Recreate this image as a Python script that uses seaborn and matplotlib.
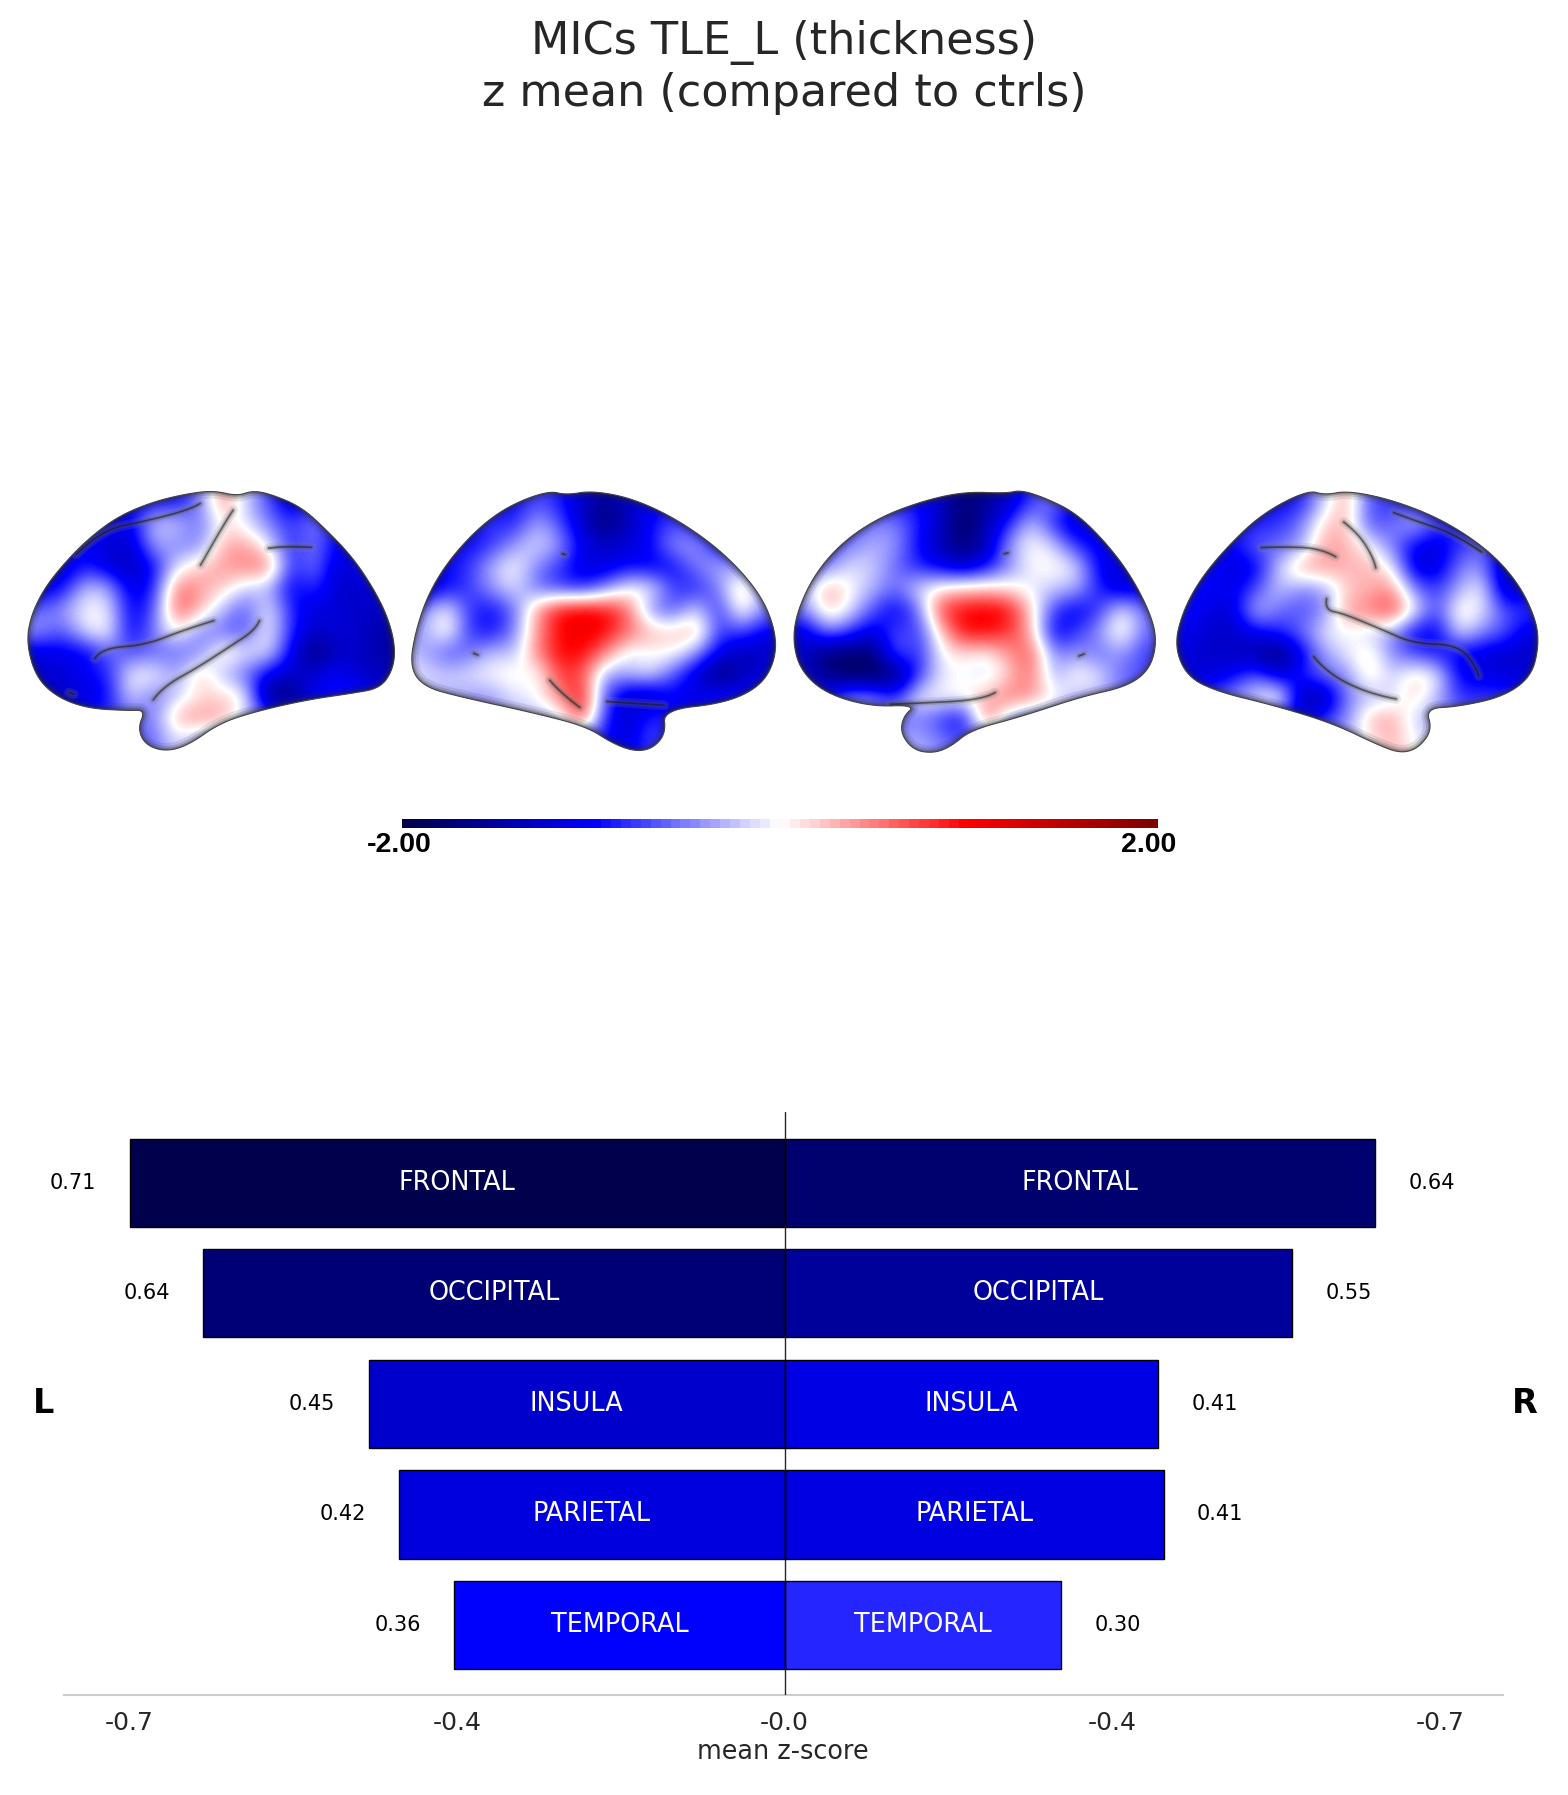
import matplotlib
matplotlib.use("Agg")
import matplotlib.pyplot as plt
from matplotlib.colors import Normalize
from matplotlib.patches import Polygon
import numpy as np
import seaborn as sns

# bar data
regions = ["FRONTAL", "OCCIPITAL", "INSULA", "PARIETAL", "TEMPORAL"]
left_vals = [0.71, 0.63, 0.451, 0.418, 0.358]
right_vals = [0.64, 0.55, 0.405, 0.411, 0.30]
left_labels = ["0.71", "0.64", "0.45", "0.42", "0.36"]
right_labels = ["0.64", "0.55", "0.41", "0.41", "0.30"]
tick_vals = [-0.71, -0.355, 0.0, 0.355, 0.71]
tick_labels = ["-0.7", "-0.4", "-0.0", "-0.4", "-0.7"]

lat_left = [
    [-1, -1, -1, -1, -1, -.9, -1, -.5, .5, -.2, -.7, -1.3, -.8, -1, -1, -1],
    [-1, -1, -.8, -1.1, -1.1, -.2, -.2, -.6, .1, -.1, -.5, -.8, -.5, -1, -1, -1],
    [-1, -.8, -1.1, -1.2, -1.3, -.3, -.5, -.5, .3, .4, -.1, -.9, -.5, -1.1, -1, -1],
    [-1, -1.3, -.9, -1.2, -1.4, -1, -.1, .2, .4, .5, .6, -.9, -.5, -1.3, -1, -1],
    [-1.2, -1, -.2, -.3, -1.2, -.9, .6, .4, .2, -.2, -.3, -1.1, -.8, -1.3, -1.3, -1.2],
    [-.6, -.4, 0, -.05, -1.1, -.7, .7, .3, -.3, -.7, 0, -.9, -1.2, -1.2, -1.3, -1.3],
    [-.4, -.7, -.1, .05, -1.1, -.5, .1, -.5, -.6, -.7, .05, -.9, -1.3, -1.2, -1.3, -1.5],
    [-1.2, -1.1, -1.1, -.6, -.7, -.6, -.6, -.5, .2, -.1, -.1, -1.1, -1.8, -1.3, -1.3, -1.5],
    [-1.3, -1.2, -1, -.9, 0, 0, -.4, .3, -.3, -.6, -1.1, -1.3, -1.2, -1, -1.3, -1.4],
    [-1.3, -1.4, -1.2, -1, -.1, -.6, -.2, .1, .2, 0, -1.8, -1.7, -1.1, -.9, -1, -1],
    [-1, -1, -1, -.8, -.6, -.5, .35, .45, .35, -.2, -.6, -1, -1, -1, -1, -1],
    [-1, -1, -1, -.8, -.6, -.6, -.1, -.4, -.5, -.6, -.8, -1, -1, -1, -1, -1],
]
med_left = [
    [-1, -1, -1, -1, -1, -.7, -.9, -1.3, -1.6, -1.3, -1.1, -1, -1, -1, -1, -1],
    [-1, -1, -1, -.8, -.9, -.3, -.7, -1.3, -1.8, -1.4, -1, -.7, -1, -1, -1, -1],
    [-1, -1, -1, -.8, -.4, -.1, -.4, -1.1, -1.3, -1.2, -1, -.4, -.4, -1, -1, -1],
    [-1, -1, -.8, -.3, .05, -.5, -.8, -1.2, -1.2, -1, -1.1, -1, -.5, -.3, -.5, -.8],
    [-1.3, -1, -.8, -.4, -.1, -.6, -.8, -.9, -.5, 0, 0, -.8, -.9, -.5, .4, -.6],
    [-.5, .05, -.8, -1, -.6, .4, 1, 1.1, 1, .6, -.5, -.7, -.1, -.9, .2, -.5],
    [-.4, .2, -.8, -1, -.5, .4, 1, 1.1, 1, .6, .3, .2, .4, -.8, -.7, -1.1],
    [-.3, -.7, -.6, -.2, -.3, .5, 1, 1, .5, -.1, 0, .05, -.4, -1.1, -1.4, -1.3],
    [-.1, -.2, -.1, 0, .1, -.1, .8, .7, -.4, -.3, -.1, -.7, -1.2, -1.8, -1.4, -1.2],
    [-.3, -.3, -.4, -.4, -.1, 0, .5, 1, -.7, -1.3, -1.4, -1, -1.2, -.9, -1, -1],
    [-.4, -.4, -.4, -.4, -.3, -.3, -.2, .9, -.9, -1.3, -.8, -1, -1, -1, -1, -1],
    [-.4, -.4, -.4, -.4, -.4, -.4, -.4, -.8, -1, -1.2, -.7, -1, -1, -1, -1, -1],
]
med_right = [
    [-1, -1, -1, -1, -1, -1, -1.3, -1.8, -1.6, -1.3, -.8, -.5, -1, -1, -1, -1],
    [-1, -1, -.8, -.5, -.5, -.9, -1.3, -1.9, -1.4, -.9, -.2, -.9, -1.3, -1, -1, -1],
    [-.9, -.8, -.5, -.3, -.4, -1, -1.4, -1.8, -1.4, -.4, .05, -.2, -.9, -1.1, -1, -1],
    [-.8, -.5, -.1, -.2, -.6, -.9, -1.1, -1.3, -1, -.5, 0, .05, -.1, -1.1, -1.2, -1],
    [-.3, .4, 0, -.3, -.6, -.1, .1, .2, .2, .1, -.1, -.2, -.3, -.9, -1.3, -1.1],
    [-.5, .3, -.1, -.7, -1.1, -.6, .8, 1, 1.1, 1, .2, -.8, -1.1, -.8, 0, -.6],
    [-1.2, -.5, -.8, -1.2, -.7, -.8, .2, 1, 1, .8, .3, -1.1, -.8, -.4, .2, -.6],
    [-1.3, -1.8, -1.8, -1.8, -.6, -.9, 0, .1, 0, .4, .7, -.5, -.4, -.6, -.4, -.8],
    [-1.3, -1.7, -1.9, -1.9, -1.8, -.8, -.1, 0, -.2, .2, .6, -.4, .1, -.1, -.6, -.7],
    [-1, -.9, -.3, -.4, -.8, 0, 0, .05, .3, .6, .4, .1, -.3, -.3, -.6, -.7],
    [-.8, -.8, -.8, -.7, -.6, -.5, -.8, -1.1, .7, -.4, -.6, -.6, -.6, -.6, -.6, -.6],
    [-.6, -.6, -.6, -.5, -.4, -.3, -.5, -.7, -.7, -.7, -.7, -.7, -.7, -.7, -.7, -.7],
]
lat_right = [
    [-1, -1, -1, -1, -1, -.9, -.2, .4, -.7, -.8, -.9, -1, -1, -1, -1, -1],
    [-1, -1, -1, -.9, -.8, -.5, .2, .3, -.7, -.6, -.2, -.8, -.9, -1, -1, -1],
    [-1, -1, -1, -.6, -.6, -.4, .4, .3, 0, -.5, -1.1, -1.2, -.8, -.6, -1, -1],
    [-1, -1, -1.2, -1.1, -.2, .4, .4, .3, .3, 0, -1.2, -1.2, -.5, -.4, -1.5, -1],
    [-1, -1, -1.1, -.7, -.2, -.5, -.4, .2, .3, .5, -.5, -.8, -.3, 0, -1.4, -1.1],
    [-.9, -1.2, -1.2, -.2, -.6, -.7, -.5, .4, .5, .8, 0, -.8, .2, -.1, -.7, -.8],
    [-1.1, -1.3, -1.3, -1.1, -.9, -.6, -.1, 0, -.2, -.4, -1.1, -1.1, -.1, -.5, -.7, -1.2],
    [-1.2, -1.3, -1.3, -1.5, -1.8, -1.1, -.4, -.1, .2, -.5, -.7, -.9, -1.1, -1.2, -1.3, -1.3],
    [-1.2, -1.2, -1, -.6, -1.2, -.9, -.6, -.5, .2, -.2, .2, 0, -1.1, -1.1, -1.2, -1.2],
    [-.8, -.7, -.4, -.1, .3, -1.5, -1.5, -.5, -.3, -.2, .2, -.3, -.8, -.8, -.8, -.8],
    [-.8, -.8, -.8, -.8, -1, -1.2, -.8, -.5, .3, .4, -.2, -.4, -.6, -.6, -.6, -.6],
    [-.6, -.6, -.6, -.6, -.6, -.6, -.5, -.3, 0, .3, 0, -.2, -.4, -.4, -.4, -.4],
]

# outlines and creases, (x, y) as measured on the crops
lat_left_outline = [(52, 520), (60, 440), (85, 360), (120, 290), (170, 210), (230, 140), (300, 95), (370, 70), (420, 62), (465, 78), (495, 62), (530, 72), (590, 110), (640, 180), (690, 260), (730, 350), (760, 440), (775, 530), (770, 600), (745, 655), (690, 670), (600, 690), (500, 725), (430, 760), (370, 825), (325, 845), (285, 825), (270, 775), (285, 720), (250, 722), (170, 715), (110, 680), (70, 620)]
med_left_outline = [(803, 590), (815, 480), (840, 370), (880, 270), (940, 170), (1000, 105), (1075, 62), (1110, 75), (1160, 62), (1240, 85), (1330, 150), (1420, 250), (1490, 370), (1520, 480), (1520, 570), (1490, 650), (1420, 700), (1300, 720), (1305, 790), (1280, 835), (1245, 845), (1200, 820), (1150, 770), (1050, 730), (900, 680), (830, 650)]
med_right_outline = [(25, 510), (35, 420), (70, 310), (125, 215), (200, 140), (290, 90), (370, 65), (450, 70), (480, 60), (530, 85), (590, 130), (650, 220), (700, 320), (740, 440), (750, 520), (735, 600), (690, 650), (600, 680), (480, 740), (380, 780), (340, 830), (305, 850), (265, 840), (240, 790), (245, 740), (270, 705), (180, 710), (90, 670), (40, 600)]
lat_right_outline = [(785, 530), (800, 430), (835, 330), (890, 230), (960, 130), (1050, 60), (1085, 75), (1130, 62), (1220, 90), (1320, 150), (1410, 240), (1470, 340), (1505, 450), (1510, 530), (1495, 620), (1440, 680), (1350, 710), (1285, 715), (1298, 780), (1270, 835), (1235, 850), (1190, 825), (1100, 760), (980, 705), (870, 665), (810, 620)]

lat_left_sulci = [
    [(175, 590), (200, 535), (285, 525), (360, 480), (465, 430)],
    [(515, 430), (500, 480), (450, 530), (390, 590), (320, 650), (285, 720)],
    [(110, 310), (200, 180), (280, 155), (370, 120), (410, 85)],
    [(380, 320), (410, 240), (440, 160), (470, 90)],
    [(500, 240), (560, 228), (650, 235)],
    [(100, 650), (180, 690)],
]
med_left_sulci = [
    [(900, 530), (965, 575)],
    [(1060, 600), (1100, 670), (1165, 745)],
    [(1150, 690), (1240, 700), (1350, 710)],
    [(1080, 240), (1130, 265)],
]
med_right_sulci = [
    [(560, 580), (640, 530)],
    [(180, 705), (270, 700), (400, 690), (450, 650)],
    [(420, 260), (480, 240)],
]
lat_right_sulci = [
    [(925, 235), (1000, 230), (1075, 235), (1130, 280)],
    [(1090, 360), (1085, 420), (1120, 430), (1200, 480), (1260, 520), (1350, 525), (1385, 590), (1395, 640)],
    [(1100, 130), (1150, 190), (1180, 260), (1190, 320)],
    [(1190, 110), (1260, 150), (1340, 190), (1440, 290)],
    [(1040, 520), (1090, 610), (1170, 670), (1270, 700)],
]


def crop_to_fig(pts, x0, xscale):
    # crops were stretched to 1568 wide and 3x tall, starting at y=470
    pts = np.array(pts, dtype=float)
    return np.column_stack([x0 + pts[:, 0] / xscale, 470 + pts[:, 1] / 3])


def smooth(pts, closed=True, n=3):
    for _ in range(n):
        nxt = np.roll(pts, -1, axis=0) if closed else pts[1:]
        cur = pts if closed else pts[:-1]
        q = 0.75 * cur + 0.25 * nxt
        r = 0.25 * cur + 0.75 * nxt
        pts = np.empty((len(q) * 2, 2))
        pts[0::2] = q
        pts[1::2] = r
    return pts


def draw_brain(ax, grid, outline, sulci, x0, xscale):
    shape = smooth(crop_to_fig(outline, x0, xscale))
    patch = Polygon(shape, closed=True, fc="none", ec="#444444", lw=0.8, zorder=4)
    ax.add_patch(patch)
    im = ax.imshow(grid, cmap="seismic", vmin=-2, vmax=2, aspect="auto", interpolation="bicubic",
                   extent=[shape[:, 0].min(), shape[:, 0].max(), shape[:, 1].max(), shape[:, 1].min()], zorder=1)
    im.set_clip_path(patch)
    # grey shading along the edge
    for lw, alpha in [(10, 0.12), (6, 0.18), (3, 0.3)]:
        rim = Polygon(shape, closed=True, fc="none", ec="#303030", lw=lw, alpha=alpha, zorder=2)
        ax.add_patch(rim)
        rim.set_clip_path(patch)
    for s in sulci:
        line = smooth(crop_to_fig(s, x0, xscale), closed=False)
        for lw, col, alpha in [(7, "#808080", 0.18), (3.5, "#505050", 0.28), (1.2, "#151515", 0.55)]:
            l, = ax.plot(line[:, 0], line[:, 1], color=col, lw=lw, alpha=alpha, zorder=3, solid_capstyle="round")
            l.set_clip_path(patch)


sns.set_theme(style="whitegrid")
plt.rcParams["font.family"] = "DejaVu Sans"

fig = plt.figure(figsize=(15.68, 17.95), dpi=100)

# brain views and colour bar, in figure pixels
bg = fig.add_axes([0, 0, 1, 1])
draw_brain(bg, lat_left, lat_left_outline, lat_left_sulci, 0, 1.96)
draw_brain(bg, med_left, med_left_outline, med_left_sulci, 0, 1.96)
draw_brain(bg, med_right, med_right_outline, med_right_sulci, 780, 1.99)
draw_brain(bg, lat_right, lat_right_outline, lat_right_sulci, 780, 1.99)
bg.imshow(np.linspace(-2, 2, 76)[None, :], cmap="seismic", vmin=-2, vmax=2, aspect="auto",
          interpolation="nearest", extent=[402, 1158, 828, 819], zorder=1)
bg.text(399, 845, "-2.00", family="Liberation Sans", weight="bold", fontsize=20.5, ha="center", va="center", color="black")
bg.text(1149, 845, "2.00", family="Liberation Sans", weight="bold", fontsize=20.5, ha="center", va="center", color="black")
bg.set_xlim(0, 1568)
bg.set_ylim(1795, 0)
bg.axis("off")

fig.suptitle("MICs TLE_L (thickness)\nz mean (compared to ctrls)", fontsize=32, y=0.989, color=".15")

# mirrored bars
ax = fig.add_axes([63.5 / 1568, 1 - 1694.5 / 1795, (1502.5 - 63.5) / 1568, (1694.5 - 1112) / 1795])
ax.patch.set_alpha(0)
cmap = plt.cm.seismic
norm = Normalize(-0.71, 0.71)
left_cols = [cmap(norm(-v)) for v in left_vals]
right_cols = [cmap(norm(-v)) for v in right_vals]
sns.barplot(x=[-v for v in left_vals], y=regions, hue=regions, palette=left_cols, dodge=False, legend=False,
            edgecolor="black", linewidth=1, width=0.8, saturation=1, ax=ax)
sns.barplot(x=right_vals, y=regions, hue=regions, palette=right_cols, dodge=False, legend=False,
            edgecolor="black", linewidth=1, width=0.8, saturation=1, ax=ax)

for i, name in enumerate(regions):
    ax.text(-left_vals[i] / 2, i, name, color="white", fontsize=18.4, ha="center", va="center")
    ax.text(right_vals[i] / 2, i, name, color="white", fontsize=18.4, ha="center", va="center")
    ax.text(-left_vals[i] - 0.061, i, left_labels[i], color="black", fontsize=15, ha="center", va="center")
    ax.text(right_vals[i] + 0.061, i, right_labels[i], color="black", fontsize=15, ha="center", va="center")

ax.axvline(0, color="black", lw=1, alpha=0.85, zorder=5)
ax.text(-0.803, 2, "L", color="black", fontsize=24, weight="bold", ha="center", va="center", clip_on=False)
ax.text(0.802, 2, "R", color="black", fontsize=24, weight="bold", ha="center", va="center", clip_on=False)

ax.set_xlim(-0.7816, 0.778)
ax.set_ylim(4.63, -0.64)
ax.set_xticks(tick_vals)
ax.set_xticklabels(tick_labels)
ax.tick_params(axis="x", labelsize=18, length=0, pad=12)
ax.set_yticks([])
ax.set_xlabel("mean z-score", fontsize=18.4, labelpad=3)
ax.set_ylabel("")
ax.grid(False)
sns.despine(ax=ax, left=True, top=True, right=True)
ax.spines["bottom"].set_linewidth(1.5)

fig.savefig("out.png", dpi=100)
